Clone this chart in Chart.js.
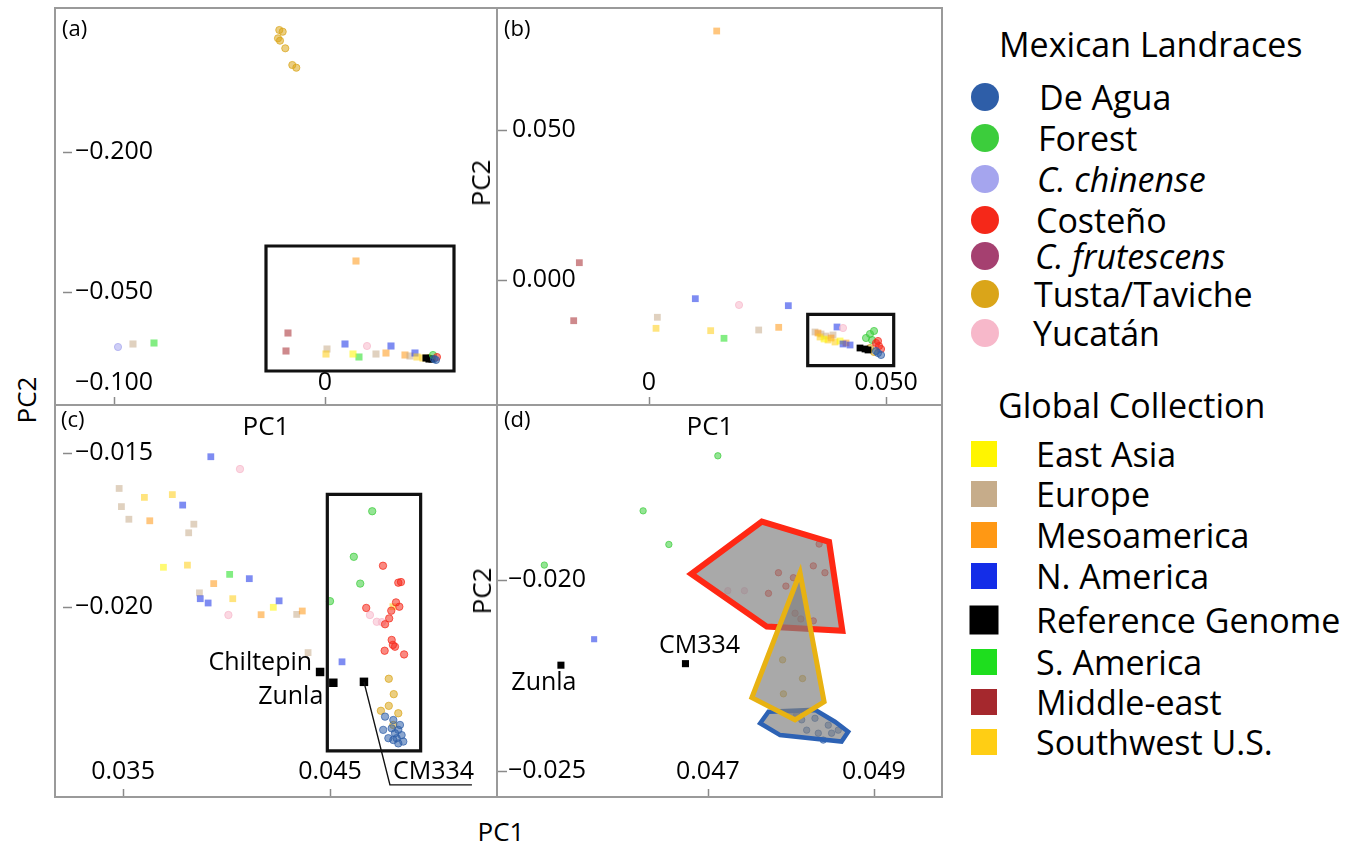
<!DOCTYPE html>
<html>
<head>
<meta charset="utf-8">
<script src="https://cdn.jsdelivr.net/npm/chart.js@4.4.1/dist/chart.umd.min.js"></script>
<style>
  html, body { margin: 0; padding: 0; background: #fff; }
  #fig { position: relative; width: 1360px; height: 844px; overflow: hidden;
         font-family: 'Open Sans', sans-serif; color: #000; background: #fff; }
  .panel { position: absolute; }
  .panel canvas { display: block; }
  .t { position: absolute; white-space: nowrap; line-height: 1; transform: translate(-50%, -50%); }
  .l { position: absolute; white-space: nowrap; line-height: 1; transform: translate(0, -50%); }
  .rot { transform: translate(-50%, -50%) rotate(-90deg); }
  .hl { position: absolute; background: #9a9a9a; }
  .mk { position: absolute; transform: translate(-50%, -50%); filter: blur(0.6px); }
  .leg { font-size: 34px; }
  .legTitle { font-size: 34px; }
</style>
</head>
<body>
<div id="fig">
  <div class="panel" style="left:55px;top:8px;"><canvas id="pa" width="442" height="397"></canvas></div>
  <div class="panel" style="left:497px;top:8px;"><canvas id="pb" width="445" height="397"></canvas></div>
  <div class="panel" style="left:55px;top:405px;"><canvas id="pc" width="442" height="392"></canvas></div>
  <div class="panel" style="left:497px;top:405px;"><canvas id="pd" width="445" height="392"></canvas></div>

  <!-- panel frame -->
  <div class="hl" style="left:54px;top:7px;width:889px;height:2px;"></div>
  <div class="hl" style="left:54px;top:796px;width:889px;height:2px;"></div>
  <div class="hl" style="left:54px;top:7px;width:2px;height:791px;"></div>
  <div class="hl" style="left:941px;top:7px;width:2px;height:791px;"></div>
  <div class="hl" style="left:496px;top:7px;width:2px;height:791px;"></div>
  <div class="hl" style="left:54px;top:404px;width:889px;height:2px;"></div>

  <!-- panel letters and axis titles -->
  <div class="l" style="left:62px;top:27px;font-size:22px;">(a)</div>
  <div class="l" style="left:504px;top:27px;font-size:22px;">(b)</div>
  <div class="l" style="left:61px;top:418px;font-size:22px;">(c)</div>
  <div class="l" style="left:504px;top:418px;font-size:22px;">(d)</div>
  <div class="t" style="left:266px;top:425px;font-size:26px;">PC1</div>
  <div class="t" style="left:710px;top:425px;font-size:26px;">PC1</div>
  <div class="t rot" style="left:480px;top:183px;font-size:26px;">PC2</div>
  <div class="t rot" style="left:481px;top:591px;font-size:26px;">PC2</div>
  <div class="t rot" style="left:26px;top:400px;font-size:26px;">PC2</div>
  <div class="t" style="left:501px;top:831px;font-size:26px;">PC1</div>

  <!-- legend -->
  <div id="legend"></div>
</div>

<script>
// ---------------- tick values and labels ----------------
const aTicksX = [-0.1, 0];          const aLabelsX = ['\u22120.100', '0'];
const aTicksY = [-0.2, -0.05];      const aLabelsY = ['\u22120.200', '\u22120.050'];
const bTicksX = [0, 0.05];          const bLabelsX = ['0', '0.050'];
const bTicksY = [0, 0.05];          const bLabelsY = ['0.000', '0.050'];
const cTicksX = [0.035, 0.045];     const cLabelsX = ['0.035', '0.045'];
const cTicksY = [-0.02, -0.015];    const cLabelsY = ['\u22120.020', '\u22120.015'];
const dTicksX = [0.047, 0.049];     const dLabelsX = ['0.047', '0.049'];
const dTicksY = [-0.025, -0.02];    const dLabelsY = ['\u22120.025', '\u22120.020'];

// ---------------- panel (a): full PC1/PC2 view ----------------
const a_deAgua   = [[0.05261, 0.02286], [0.05166, 0.02179]];
const a_forest   = [[0.05118, 0.01750]];
const a_chinense = [[-0.09810, 0.00893]];
const a_costeno  = [[0.05308, 0.01964]];
const a_tusta    = [[-0.02166, -0.33071], [-0.02005, -0.32889], [-0.02227, -0.32182], [-0.02133, -0.31925],
                    [-0.01882, -0.31111], [-0.01550, -0.29321], [-0.01360, -0.29032], [0.04929, 0.02071]];
const a_yucatan  = [[0.01991, 0.00786]];
const a_eastAsia = [[0.01327, 0.01643]];
const a_europe   = [[-0.09100, 0.00571], [0.00095, 0.01107], [0.02417, 0.01643], [0.04028, 0.01857]];
const a_meso     = [[0.01469, -0.08321], [0.02891, 0.01536], [0.03791, 0.01750]];
const a_nAmerica = [[0.00948, 0.00571], [0.03128, 0.00786], [0.04265, 0.01536]];
const a_reference = [[0.04787, 0.02071], [0.04929, 0.02179], [0.05071, 0.02179]];
const a_sAmerica = [[-0.08104, 0.00464], [0.01611, 0.01964]];
const a_middleEast = [[-0.01754, -0.00607], [-0.01848, 0.01321]];
const a_swUS     = [[0.00047, 0.01643], [0.04360, 0.01964], [0.04645, 0.02071]];
const a_zoomX = [-0.02796, 0.06114];
const a_zoomY = [-0.09929, 0.03464];

// ---------------- panel (b) ----------------
const b_meso     = [[0.01428, 0.0830], [0.02736, -0.01578], [0.03565, -0.01767], [0.03840, -0.01933], [0.04156, -0.02100]];
const b_middleEast = [[-0.01470, 0.00577], [-0.01589, -0.01357]];
const b_europe   = [[0.00176, -0.01243], [0.02314, -0.01667], [0.03502, -0.01733], [0.03629, -0.01800],
                    [0.03734, -0.01867], [0.03882, -0.01833]];
const b_swUS     = [[0.00148, -0.01611], [0.01301, -0.01689], [0.03608, -0.01900], [0.03776, -0.02000], [0.03924, -0.02067]];
const b_eastAsia = [[0.03692, -0.01967], [0.04030, -0.02033]];
const b_nAmerica = [[0.00977, -0.00623], [0.02939, -0.00856], [0.03966, -0.01567], [0.04093, -0.02133], [0.04241, -0.02167]];
const b_yucatan  = [[0.01899, -0.00833], [0.04093, -0.01600], [0.04789, -0.02167]];
const b_sAmerica = [[0.01582, -0.01944]];
const b_forest   = [[0.04578, -0.01933], [0.04662, -0.01800], [0.04747, -0.01700], [0.04705, -0.02000]];
const b_costeno  = [[0.04789, -0.02100], [0.04852, -0.02200], [0.04895, -0.02300], [0.04831, -0.02033]];
const b_reference = [[0.04451, -0.02267], [0.04557, -0.02300], [0.04620, -0.02333]];
const b_deAgua   = [[0.04831, -0.02433], [0.04895, -0.02500], [0.04789, -0.02367]];
const b_tusta    = [[0.04662, -0.02267], [0.04747, -0.02400]];
const b_zoomX = [0.03348, 0.05162];
const b_zoomY = [-0.02856, -0.01144];

// ---------------- panel (c) ----------------
const c_nAmerica = [[0.03924, -0.01512], [0.03788, -0.01669], [0.04110, -0.01908], [0.03873, -0.01973],
                    [0.03911, -0.01987], [0.04254, -0.01980], [0.04558, -0.02178]];
const c_yucatan  = [[0.04065, -0.01552], [0.04009, -0.02026], [0.04693, -0.02026], [0.04726, -0.02048], [0.04751, -0.02049]];
const c_europe   = [[0.03481, -0.01615], [0.03492, -0.01674], [0.03528, -0.01715], [0.03842, -0.01731],
                    [0.03817, -0.01759], [0.03869, -0.01954], [0.04339, -0.02024], [0.04394, -0.02148]];
const c_swUS     = [[0.03603, -0.01644], [0.03738, -0.01635], [0.03811, -0.01864], [0.04030, -0.01973], [0.04804, -0.01999]];
const c_eastAsia = [[0.03695, -0.01871], [0.04226, -0.02001]];
const c_meso     = [[0.03629, -0.01720], [0.03938, -0.01924], [0.04167, -0.02025], [0.04366, -0.02013]];
const c_sAmerica = [[0.04015, -0.01894]];
const c_forest   = [[0.04500, -0.01981], [0.04704, -0.01689], [0.04615, -0.01837], [0.04646, -0.01924]];
const c_reference = [[0.04452, -0.02211], [0.04516, -0.02246], [0.04664, -0.02243]];
const c_referenceNames = ['Chiltepin', 'Zunla', 'CM334'];
const c_costeno  = [[0.04756, -0.01866], [0.04830, -0.01921], [0.04843, -0.01919], [0.04675, -0.02003],
                    [0.04819, -0.01985], [0.04835, -0.01999], [0.04796, -0.02012], [0.04786, -0.02037],
                    [0.04766, -0.02056], [0.04798, -0.02107], [0.04814, -0.02129], [0.04764, -0.02142],
                    [0.04858, -0.02154], [0.04804, -0.02123]];
const c_tusta    = [[0.04784, -0.02233], [0.04808, -0.02283], [0.04784, -0.02321], [0.04746, -0.02337],
                    [0.04830, -0.02345], [0.04806, -0.02383]];
const c_deAgua   = [[0.04766, -0.02356], [0.04806, -0.02367], [0.04838, -0.02383], [0.04757, -0.02399],
                    [0.04798, -0.02394], [0.04830, -0.02399], [0.04846, -0.02416], [0.04782, -0.02426],
                    [0.04822, -0.02426], [0.04854, -0.02437], [0.04830, -0.02443], [0.04814, -0.02410],
                    [0.04806, -0.02432]];
const c_zoomX = [0.04487, 0.04938];
const c_zoomY = [-0.02467, -0.01634];

// ---------------- panel (d) ----------------
const d_forest   = [[0.04712, -0.01675], [0.04622, -0.01819], [0.04653, -0.01907], [0.04503, -0.01961]];
const d_nAmerica = [[0.04563, -0.02155]];
const d_reference = [[0.04523, -0.02223], [0.04673, -0.02219]];
const d_referenceNames = ['Zunla', 'CM334'];
const d_costeno  = [[0.04834, -0.01906], [0.04827, -0.01963], [0.04841, -0.01981], [0.04785, -0.01981],
                    [0.04803, -0.01994], [0.04794, -0.02016], [0.04773, -0.02035], [0.04805, -0.02087],
                    [0.04812, -0.02102], [0.04827, -0.02107]];
const d_yucatan  = [[0.04724, -0.02028], [0.04744, -0.02028]];
const d_tusta    = [[0.04790, -0.02209], [0.04814, -0.02258], [0.04791, -0.02298]];
const d_deAgua   = [[0.04829, -0.02362], [0.04845, -0.02380], [0.04819, -0.02393], [0.04833, -0.02401],
                    [0.04849, -0.02401], [0.04857, -0.02393], [0.04807, -0.02353], [0.04813, -0.02366],
                    [0.04839, -0.02419]];
// convex hulls of the three landrace groups
const d_hullCosteno = [[0.04765, -0.01847], [0.04846, -0.01900], [0.04862, -0.02133], [0.04771, -0.02122], [0.04680, -0.01984]];
const d_hullTusta   = [[0.04811, -0.01981], [0.04840, -0.02319], [0.04805, -0.02366], [0.04753, -0.02308]];
const d_hullDeAgua  = [[0.04773, -0.02345], [0.04829, -0.02340], [0.04853, -0.02371], [0.04869, -0.02397],
                       [0.04861, -0.02423], [0.04787, -0.02406], [0.04763, -0.02375]];

// ---------------- group appearance ----------------
const landraces = ['deAgua', 'forest', 'chinense', 'costeno', 'frutescens', 'tusta', 'yucatan'];
const globals = ['eastAsia', 'europe', 'meso', 'nAmerica', 'reference', 'sAmerica', 'middleEast', 'swUS'];
const groupNames = {
  deAgua: 'De Agua', forest: 'Forest', chinense: '<i>C. chinense</i>', costeno: 'Costeño',
  frutescens: '<i>C. frutescens</i>', tusta: 'Tusta/Taviche', yucatan: 'Yucatán',
  eastAsia: 'East Asia', europe: 'Europe', meso: 'Mesoamerica', nAmerica: 'N. America',
  reference: 'Reference Genome', sAmerica: 'S. America', middleEast: 'Middle-east', swUS: 'Southwest U.S.'
};
const groupRGB = {
  deAgua: [46, 94, 168], forest: [60, 205, 60], chinense: [165, 165, 238], costeno: [245, 40, 25],
  frutescens: [165, 64, 112], tusta: [218, 165, 25], yucatan: [247, 184, 202],
  eastAsia: [255, 245, 0], europe: [198, 172, 138], meso: [255, 152, 20], nAmerica: [20, 45, 232],
  reference: [0, 0, 0], sAmerica: [30, 222, 30], middleEast: [165, 40, 45], swUS: [255, 206, 20]
};
const rgba = (k, a) => `rgba(${groupRGB[k].join(',')},${a})`;

function pointSets(groups, size) {
  // groups listed first end up on top
  return Object.entries(groups).map(([k, pts], i) => {
    const circle = landraces.includes(k);
    const solid = k === 'reference';
    return {
      data: pts.map(([x, y]) => ({x, y})),
      pointStyle: circle ? 'circle' : 'rect',
      pointRadius: circle ? size.circle : (solid ? size.ref : size.rect),
      pointBackgroundColor: solid ? '#000' : rgba(k, 0.55),
      pointBorderColor: solid ? '#000' : rgba(k, circle ? 0.7 : 0),
      pointBorderWidth: circle ? 1 : 0,
      showLine: false,
      order: 20 + i
    };
  });
}

function polyline(pts, color, width, fillColor, order) {
  const closed = pts.concat([pts[0], pts[1]]);
  return {
    data: closed.map(([x, y]) => ({x, y})),
    showLine: true, pointRadius: 0, tension: 0,
    borderColor: color, borderWidth: width, borderJoinStyle: 'miter',
    backgroundColor: fillColor || 'rgba(0,0,0,0)',
    fill: fillColor ? 'shape' : false,
    order
  };
}

function zoomBox(xr, yr) {
  const corners = [[xr[0], yr[0]], [xr[1], yr[0]], [xr[1], yr[1]], [xr[0], yr[1]]];
  return polyline(corners, '#111', 3.2, null, 1);
}

// tick dashes, point captions and leader lines
const decor = {
  id: 'decor',
  afterDraw(chart, args, o) {
    const {ctx, chartArea: ca, scales: {x, y}} = chart;
    ctx.save();
    ctx.strokeStyle = '#8a8a8a';
    ctx.lineWidth = 1.5;
    y.ticks.forEach(t => {
      const py = Math.round(y.getPixelForValue(t.value)) + 0.5;
      ctx.beginPath(); ctx.moveTo(ca.left + o.yDash[0], py); ctx.lineTo(ca.left + o.yDash[1], py); ctx.stroke();
    });
    x.ticks.forEach(t => {
      const px = Math.round(x.getPixelForValue(t.value)) + 0.5;
      ctx.beginPath(); ctx.moveTo(px, ca.bottom); ctx.lineTo(px, ca.bottom - 8); ctx.stroke();
    });
    (o.leaders || []).forEach(l => {
      const px = x.getPixelForValue(l.at[0]), py = y.getPixelForValue(l.at[1]);
      ctx.strokeStyle = '#111'; ctx.lineWidth = 1.4;
      ctx.beginPath();
      l.path.forEach(([dx, dy], i) => i ? ctx.lineTo(px + dx, py + dy) : ctx.moveTo(px + dx, py + dy));
      ctx.stroke();
    });
    ctx.fillStyle = '#000';
    ctx.font = "25px 'Open Sans', sans-serif";
    ctx.textBaseline = 'middle';
    (o.captions || []).forEach(c => {
      ctx.textAlign = c.align;
      ctx.fillText(c.text, x.getPixelForValue(c.at[0]) + c.dx, y.getPixelForValue(c.at[1]) + c.dy);
    });
    ctx.restore();
  }
};

function axisOpts(range, ticks, labels, pad, horizontal, reverse) {
  return {
    type: 'linear', bounds: 'data', min: range[0], max: range[1], reverse: !!reverse,
    position: horizontal ? 'bottom' : 'left',
    grid: {display: false, drawTicks: false},
    border: {display: false},
    afterBuildTicks: s => { s.ticks = ticks.map(v => ({value: v})); },
    afterFit: s => {
      if (horizontal) s.height = 0; else s.width = 0;
      s.paddingTop = s.paddingBottom = s.paddingLeft = s.paddingRight = 0;
    },
    ticks: {
      mirror: true,
      autoSkip: false, maxRotation: 0, minRotation: 0, padding: pad, color: '#000',
      font: {size: 25, lineHeight: 1},
      callback: (v, i) => labels[i]
    }
  };
}

function makePanel(id, datasets, sc, decorOpts) {
  new Chart(document.getElementById(id), {
    type: 'scatter',
    data: {datasets},
    options: {
      responsive: false, animation: false, events: [],
      layout: {padding: 0, autoPadding: false},
      plugins: {legend: {display: false}, tooltip: {enabled: false}, decor: decorOpts},
      scales: {
        x: axisOpts(sc.xr, sc.xt, sc.xl, sc.xpad, true, false),
        y: axisOpts(sc.yr, sc.yt, sc.yl, sc.ypad, false, sc.rev)
      }
    },
    plugins: [decor]
  });
}

Chart.defaults.font.family = "'Open Sans', sans-serif";

// (a)
makePanel('pa', [
  zoomBox(a_zoomX, a_zoomY),
  ...pointSets({deAgua: a_deAgua, costeno: a_costeno, forest: a_forest, reference: a_reference, tusta: a_tusta,
    swUS: a_swUS, nAmerica: a_nAmerica, europe: a_europe, meso: a_meso, eastAsia: a_eastAsia,
    sAmerica: a_sAmerica, yucatan: a_yucatan, middleEast: a_middleEast, chinense: a_chinense},
    {circle: 3.6, rect: 5, ref: 5})
], {xr: [-0.12796, 0.08152], xt: aTicksX, xl: aLabelsX, xpad: 9.5,
    yr: [-0.35429, 0.07107], yt: aTicksY, yl: aLabelsY, ypad: 20, rev: true},
   {yDash: [8, 17]});

// (b)
makePanel('pb', [
  zoomBox(b_zoomX, b_zoomY),
  ...pointSets({deAgua: b_deAgua, costeno: b_costeno, forest: b_forest, reference: b_reference, tusta: b_tusta,
    yucatan: b_yucatan, nAmerica: b_nAmerica, eastAsia: b_eastAsia, swUS: b_swUS, meso: b_meso,
    europe: b_europe, sAmerica: b_sAmerica, middleEast: b_middleEast},
    {circle: 3.6, rect: 4.8, ref: 4.8})
], {xr: [-0.03207, 0.06181], xt: bTicksX, xl: bLabelsX, xpad: 9.5,
    yr: [-0.04167, 0.09067], yt: bTicksY, yl: bLabelsY, ypad: 15},
   {yDash: [1, 10]});

// (c)
makePanel('pc', [
  zoomBox(c_zoomX, c_zoomY),
  ...pointSets({reference: c_reference, deAgua: c_deAgua, tusta: c_tusta, costeno: c_costeno, yucatan: c_yucatan,
    forest: c_forest, nAmerica: c_nAmerica, eastAsia: c_eastAsia, swUS: c_swUS, meso: c_meso,
    europe: c_europe, sAmerica: c_sAmerica},
    {circle: 3.7, rect: 4.8, ref: 6})
], {xr: [0.03171, 0.05307], xt: cTicksX, xl: cLabelsX, xpad: 12.5,
    yr: [-0.02617, -0.01344], yt: cTicksY, yl: cLabelsY, ypad: 20},
   {yDash: [8, 17],
    captions: [
      {at: c_reference[0], dx: -8, dy: -9, text: c_referenceNames[0], align: 'right'},
      {at: c_reference[1], dx: -10, dy: 14, text: c_referenceNames[1], align: 'right'},
      {at: c_reference[2], dx: 29, dy: 90, text: c_referenceNames[2], align: 'left'}
    ],
    leaders: [{at: c_reference[2], path: [[0, 0], [26, 103], [108, 103]]}]});

// (d)
makePanel('pd', [
  polyline(d_hullTusta, 'rgb(232,178,18)', 5, 'rgba(128,128,128,0.68)', 2),
  polyline(d_hullCosteno, 'rgb(255,40,20)', 6, 'rgba(128,128,128,0.68)', 3),
  polyline(d_hullDeAgua, 'rgb(45,98,180)', 4.5, 'rgba(128,128,128,0.68)', 4),
  ...pointSets({reference: d_reference, deAgua: d_deAgua, tusta: d_tusta, costeno: d_costeno, yucatan: d_yucatan,
    forest: d_forest, nAmerica: d_nAmerica},
    {circle: 3.2, rect: 4.3, ref: 5})
], {xr: [0.04446, 0.04982], xt: dTicksX, xl: dLabelsX, xpad: 12.5,
    yr: [-0.02568, -0.01542], yt: dTicksY, yl: dLabelsY, ypad: 11},
   {yDash: [1, 10],
    captions: [
      {at: d_reference[0], dx: -17, dy: 18, text: d_referenceNames[0], align: 'center'},
      {at: d_reference[1], dx: 14, dy: -18, text: d_referenceNames[1], align: 'center'}
    ]});

// ---------------- legend ----------------
const legendRowsMex = [97, 138, 179, 220, 256, 294, 333];
const legendRowsGlobal = [454, 494, 535, 576, 620, 662, 702, 742];
(function buildLegend() {
  const host = document.getElementById('legend');
  let html = '<div class="l legTitle" style="left:999px;top:44px;">Mexican Landraces</div>';
  landraces.forEach((k, i) => {
    const y = legendRowsMex[i];
    html += `<div class="mk" style="left:985px;top:${y}px;width:28px;height:28px;border-radius:50%;background:${rgba(k, 1)};"></div>`;
    html += `<div class="l leg" style="left:${1039 - i}px;top:${y}px;">${groupNames[k]}</div>`;
  });
  html += '<div class="l legTitle" style="left:998px;top:405px;">Global Collection</div>';
  globals.forEach((k, i) => {
    const y = legendRowsGlobal[i];
    const s = k === 'reference' ? 29 : 26;
    html += `<div class="mk" style="left:984px;top:${y}px;width:${s}px;height:${s}px;background:${rgba(k, 1)};"></div>`;
    html += `<div class="l leg" style="left:1036px;top:${y}px;">${groupNames[k]}</div>`;
  });
  host.innerHTML = html;
})();
</script>
</body>
</html>
